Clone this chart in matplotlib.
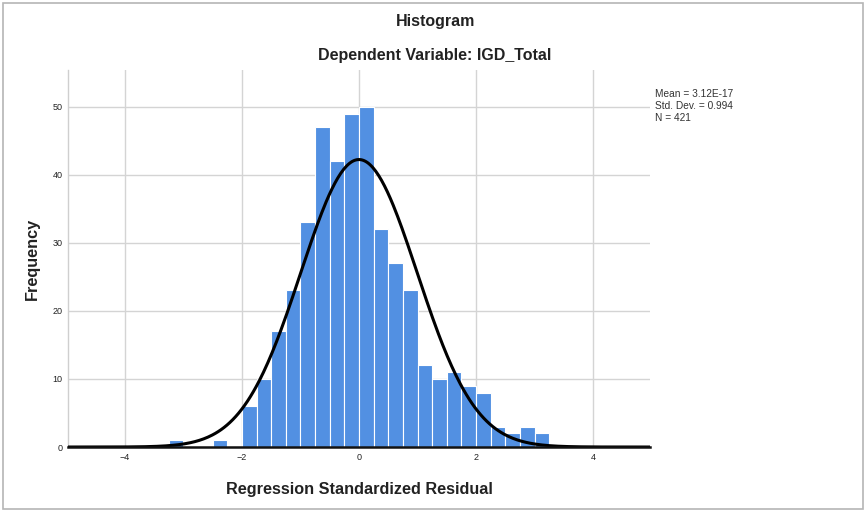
import numpy as np
import matplotlib
matplotlib.use('Agg')
import matplotlib.pyplot as plt
from matplotlib.patches import Rectangle

# residual histogram, bin width 0.25
bin_left = [-3.25, -2.5, -2.0, -1.75, -1.5, -1.25, -1.0, -0.75, -0.5, -0.25,
            0.0, 0.25, 0.5, 0.75, 1.0, 1.25, 1.5, 1.75, 2.0, 2.25, 2.5, 2.75, 3.0]
counts = [1, 1, 6, 10, 17, 23, 33, 47, 42, 49,
          50, 32, 27, 23, 12, 10, 11, 9, 8, 3, 2, 3, 2]
bin_width = 0.25

# summary stats shown beside the plot
mean_val = 3.12e-17
std_val = 0.994
n_obs = 421
stats_lines = ['Mean = 3.12E-17', 'Std. Dev. = 0.994', 'N = 421']

x_ticks = [-4, -2, 0, 2, 4]
y_ticks = [0, 10, 20, 30, 40, 50]

plt.rcParams['font.family'] = ['Liberation Sans', 'DejaVu Sans']

fig = plt.figure(figsize=(8.65, 5.11), dpi=100)
ax = fig.add_axes([0.0786, 0.1252, 0.6728, 0.7378])

ax.bar(bin_left, counts, width=bin_width, align='edge',
       color='#5290e2', edgecolor='white', linewidth=0.8, zorder=2)

# fitted normal curve scaled to counts
xs = np.linspace(-4.97, 4.97, 400)
ys = n_obs * bin_width / (std_val * np.sqrt(2 * np.pi)) * \
    np.exp(-0.5 * ((xs - mean_val) / std_val) ** 2)
ax.plot(xs, ys, color='black', linewidth=2.2, zorder=3)

ax.set_xlim(-4.97, 4.97)
ax.set_ylim(0, 55.4)
ax.set_xticks(x_ticks)
ax.set_yticks(y_ticks)
ax.tick_params(length=0, labelsize=6.5, pad=4, colors='#222222')
ax.grid(True, color='#d4d4d4', linewidth=1.0, zorder=0)
ax.set_axisbelow(True)

for side in ['top', 'right']:
    ax.spines[side].set_visible(False)
ax.spines['left'].set_color('#cfcfcf')
ax.spines['left'].set_linewidth(1.0)
ax.spines['bottom'].set_color('#111111')
ax.spines['bottom'].set_linewidth(1.8)
ax.spines['bottom'].set_zorder(4)

ax.set_xlabel('Regression Standardized Residual', fontsize=11.7,
              fontweight='bold', color='#222222', labelpad=15)
ax.set_ylabel('Frequency', fontsize=11.7, fontweight='bold',
              color='#222222', labelpad=9)

fig.text(0.503, 0.957, 'Histogram', ha='center', va='center',
         fontsize=11.5, fontweight='bold', color='#222222')
fig.text(0.503, 0.892, 'Dependent Variable: IGD_Total', ha='center',
         va='center', fontsize=11.5, fontweight='bold', color='#222222')

for i, line in enumerate(stats_lines):
    fig.text(0.757, 1 - (94 + 12 * i) / 511, line, ha='left', va='center',
             fontsize=7.3, color='#333333')

# outer frame
fig.patches.append(Rectangle((0.0035, 0.004), 0.9945, 0.99,
                             transform=fig.transFigure, fill=False,
                             edgecolor='#b5b5b5', linewidth=1.2))

fig.savefig('out.png', dpi=100)
plt.close(fig)
